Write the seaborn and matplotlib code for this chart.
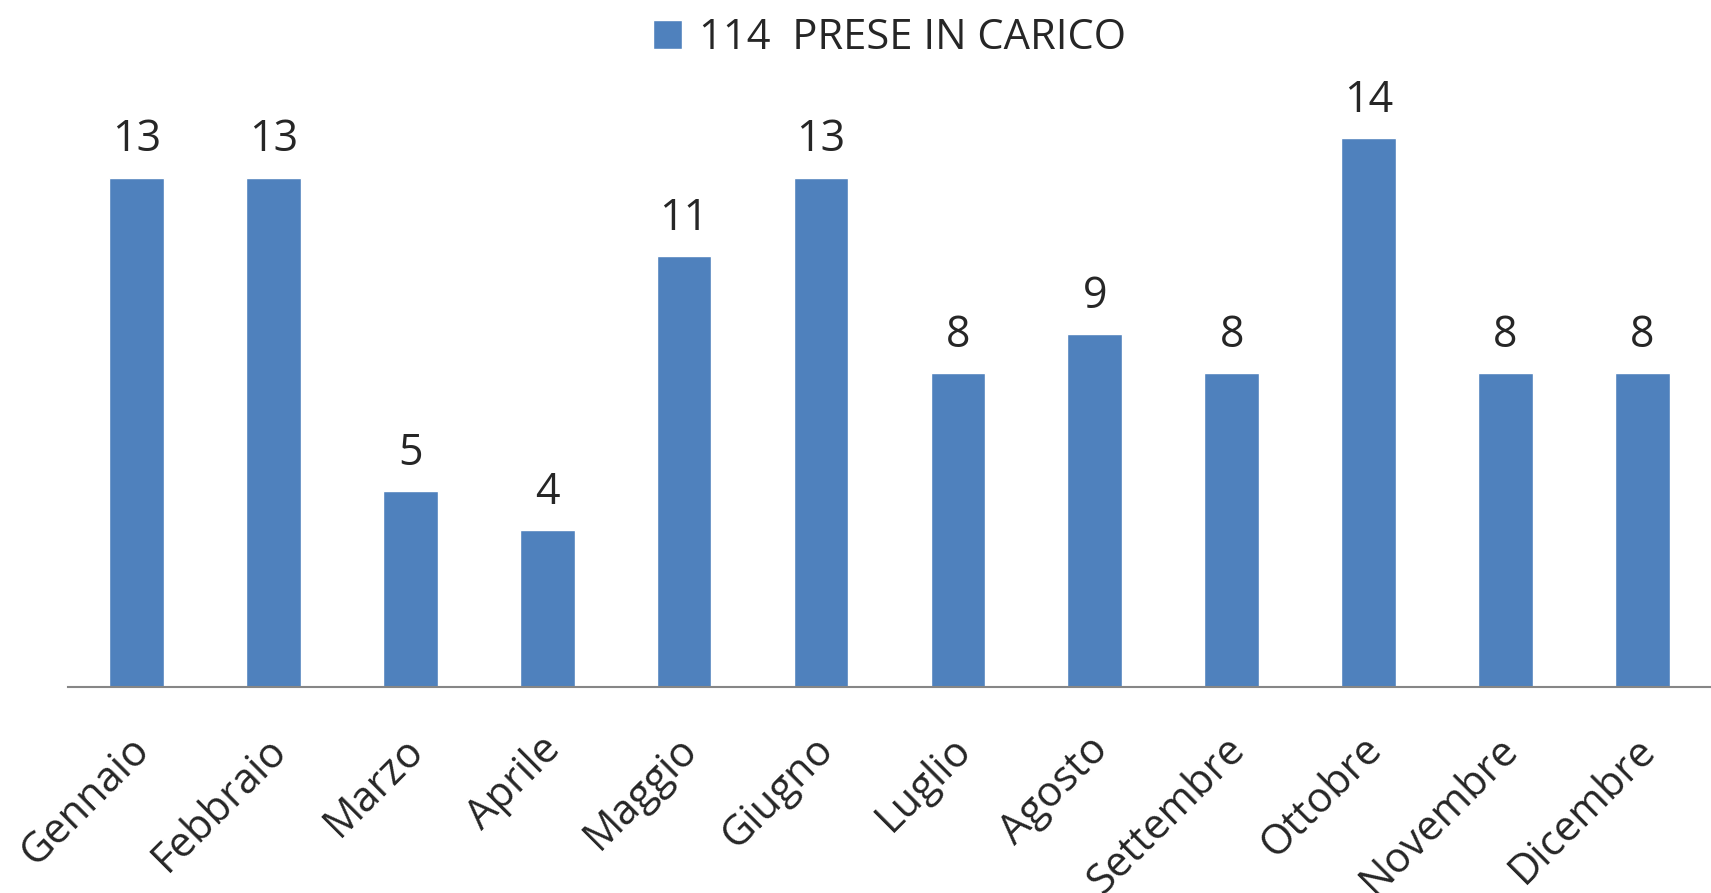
import pandas as pd
import matplotlib.pyplot as plt
import matplotlib.transforms as mtransforms
import seaborn as sns

months = ["Gennaio", "Febbraio", "Marzo", "Aprile", "Maggio", "Giugno",
          "Luglio", "Agosto", "Settembre", "Ottobre", "Novembre", "Dicembre"]
values = [13, 13, 5, 4, 11, 13, 8, 9, 8, 14, 8, 8]
series_name = "114  PRESE IN CARICO"

df = pd.DataFrame({"Mese": months, "Valore": values})

sns.set_style("white")
plt.rcParams["font.family"] = ["Open Sans", "DejaVu Sans"]

fig = plt.figure(figsize=(17.11, 8.93), dpi=100)
ax = fig.add_axes([0.0397, 0.2307, 0.9603, 0.7021])

sns.barplot(df, x="Mese", y="Valore", color="#4F81BD", width=0.4,
            saturation=1, label=series_name, ax=ax)

for c in ax.containers:
    ax.bar_label(c, fmt="%d", padding=11, fontsize=31)

ax.set_ylim(0, 16)
ax.set_xlim(-0.5, 11.5)
ax.set_xlabel("")
ax.set_ylabel("")
ax.set_yticks([])
ax.tick_params(axis="x", length=0, pad=30, labelsize=30)
shift = mtransforms.ScaledTranslation(-8 / 100, 0, fig.dpi_scale_trans)
for lab in ax.get_xticklabels():
    lab.set_rotation(45)
    lab.set_ha("right")
    lab.set_rotation_mode("anchor")
    lab.set_transform(lab.get_transform() + shift)

sns.despine(ax=ax, left=True, top=True, right=True)
ax.spines["bottom"].set_color("#868686")
ax.spines["bottom"].set_linewidth(1.5)

ax.legend(loc="upper center", bbox_to_anchor=(0.52, 1.0), bbox_transform=fig.transFigure,
          frameon=False, fontsize=30, handlelength=0.7, handleheight=0.7,
          handletextpad=0.4, borderaxespad=0.0)

fig.savefig("out.png", dpi=100)
